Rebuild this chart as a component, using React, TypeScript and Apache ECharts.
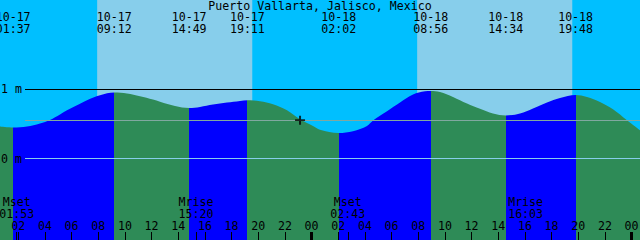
import { useEffect, useRef } from 'react';
import * as echarts from 'echarts';

const TITLE = 'Puerto Vallarta, Jalisco, Mexico';
const FIRST_DAY = 17;
const T_MIN = 0.63; // hours after 10-17 00:00 at left edge
const T_MAX = 48.63;
const Y_MIN = -1.181;
const Y_MAX = 2.297;

// Tide extremes (labels at top)
const tideTimes = ['10-17 01:37', '10-17 09:12', '10-17 14:49', '10-17 19:11', '10-18 02:02', '10-18 08:56', '10-18 14:34', '10-18 19:48'];
const tideKinds = ['L', 'H', 'L', 'H', 'L', 'H', 'L', 'H'];

// Moon events (labels at bottom)
const moonTimes = ['10-17 01:53', '10-17 15:20', '10-18 02:43', '10-18 16:03'];
const moonEvents = ['Mset', 'Mrise', 'Mset', 'Mrise'];

// Daylight
const sunriseTimes = ['10-17 07:55', '10-18 07:55'];
const sunsetTimes = ['10-17 19:33', '10-18 19:33'];

// Hour tick labels (hours after 10-17 00:00)
const hourTicks = [2, 4, 6, 8, 10, 12, 14, 16, 18, 20, 22, 24, 26, 28, 30, 32, 34, 36, 38, 40, 42, 44, 46, 48];
const midnightTicks = [24, 48];

// Tide curve (hours, metres)
const curveHours = [0.63, 1.617, 2.655, 3.63, 4.38, 5.13, 5.655, 6.405, 7.155, 8.13, 9.2, 10.155, 11.13, 12.105, 12.63, 13.755, 14.817, 15.63, 16.605, 17.655, 18.63, 19.183, 20.13, 21.105, 22.155, 23.13, 24.105, 24.63, 26.033, 27.105, 28.155, 28.605, 29.655, 30.63, 31.605, 32.505, 32.933, 33.63, 34.605, 35.655, 36.63, 37.605, 38.567, 39.63, 40.605, 41.655, 42.63, 43.8, 44.655, 45.63, 46.605, 47.655, 48.63];
const curveMeters = [0.464, 0.449, 0.464, 0.507, 0.559, 0.638, 0.7, 0.772, 0.845, 0.917, 0.957, 0.942, 0.903, 0.855, 0.823, 0.762, 0.733, 0.748, 0.783, 0.812, 0.835, 0.845, 0.83, 0.787, 0.7, 0.57, 0.472, 0.417, 0.371, 0.396, 0.472, 0.551, 0.686, 0.812, 0.928, 0.975, 0.98, 0.965, 0.893, 0.797, 0.72, 0.652, 0.623, 0.652, 0.725, 0.812, 0.878, 0.922, 0.893, 0.82, 0.714, 0.555, 0.41];

const labeledLevels = [0, 1];
const meanLevel = 0.551;
const lineStartHour = 2.505;
const nowTime = '10-17 23:08';
const nowLevel = 0.555;

const NIGHT = '#00bfff';
const DAY = '#87ceeb';
const FALLING = '#2e8b57';
const RISING = '#0000ff';
const FONT = "'DejaVu Sans Mono', monospace";
const FS = 11.6;

function toHours(s: string): number {
  const day = parseInt(s.slice(3, 5), 10);
  const hh = parseInt(s.slice(6, 8), 10);
  const mm = parseInt(s.slice(9, 11), 10);
  return (day - FIRST_DAY) * 24 + hh + mm / 60;
}

function nearest(list: number[], v: number): number {
  let best = 0;
  for (let i = 1; i < list.length; i++) if (Math.abs(list[i] - v) < Math.abs(list[best] - v)) best = i;
  return best;
}

export default function App() {
  const ref = useRef<HTMLDivElement>(null);
  useEffect(() => {
    if (!ref.current) return;
    const chart = echarts.init(ref.current, null, { renderer: 'svg' });
    const tideHours = tideTimes.map(toHours);
    const moonHours = moonTimes.map(toHours);
    const pieces: any[] = [{ lt: tideHours[0], color: tideKinds[0] === 'L' ? FALLING : RISING }];
    for (let i = 0; i < tideHours.length - 1; i++) {
      pieces.push({ gte: tideHours[i], lt: tideHours[i + 1], color: tideKinds[i] === 'L' ? RISING : FALLING });
    }
    const last = tideHours.length - 1;
    pieces.push({ gte: tideHours[last], color: tideKinds[last] === 'L' ? RISING : FALLING });

    const baseX = {
      type: 'value',
      min: T_MIN,
      max: T_MAX,
      splitLine: { show: false },
      axisLine: { show: false, onZero: false },
      z: 10,
    };
    const labelBase = {
      inside: true,
      color: '#000',
      fontFamily: FONT,
      fontSize: FS,
      lineHeight: 12,
      hideOverlap: false,
      align: 'center',
    };

    const levelLines = [
      ...labeledLevels.map((lv) => [
        { coord: [lineStartHour, lv], lineStyle: { color: lv === 0 ? DAY : '#000', width: 1, type: 'solid' } },
        { coord: [T_MAX, lv] },
      ]),
      [
        { coord: [lineStartHour, meanLevel], lineStyle: { color: '#80a8a0', width: 1, type: 'solid' } },
        { coord: [T_MAX, meanLevel] },
      ],
    ];

    chart.setOption({
      animation: false,
      backgroundColor: NIGHT,
      title: {
        text: TITLE,
        left: 'center',
        top: 0,
        padding: 0,
        textStyle: { fontFamily: FONT, fontSize: FS, fontWeight: 'normal', color: '#000', lineHeight: 11 },
      },
      grid: { left: 0, right: 0, top: 0, bottom: 0, containLabel: false, outerBoundsMode: 'none' },
      visualMap: { show: false, type: 'piecewise', dimension: 0, seriesIndex: 1, pieces },
      xAxis: [
        {
          ...baseX,
          position: 'bottom',
          axisTick: { show: true, inside: true, length: 8, customValues: hourTicks, lineStyle: { color: '#000', width: 1 } },
          axisLabel: {
            ...labelBase,
            customValues: hourTicks,
            margin: 8.5,
            verticalAlign: 'bottom',
            formatter: (v: number) => String(Math.round(v) % 24).padStart(2, '0'),
          },
        },
        {
          ...baseX,
          position: 'bottom',
          axisTick: { show: true, inside: true, length: 8, customValues: moonHours, lineStyle: { color: '#000', width: 1 } },
          axisLabel: {
            ...labelBase,
            customValues: moonHours,
            margin: 20.5,
            verticalAlign: 'bottom',
            formatter: (v: number) => {
              const i = nearest(moonHours, v);
              return moonEvents[i] + '\n' + moonTimes[i].slice(6);
            },
          },
        },
        {
          ...baseX,
          position: 'bottom',
          axisTick: { show: true, inside: true, length: 8, customValues: midnightTicks, lineStyle: { color: '#000', width: 3 } },
          axisLabel: { show: false },
        },
        {
          ...baseX,
          position: 'top',
          axisTick: { show: false },
          axisLabel: {
            ...labelBase,
            customValues: tideHours,
            margin: 11,
            verticalAlign: 'top',
            formatter: (v: number) => tideTimes[nearest(tideHours, v)].replace(' ', '\n'),
          },
        },
      ],
      yAxis: {
        type: 'value',
        min: Y_MIN,
        max: Y_MAX,
        z: 10,
        splitLine: { show: false },
        axisLine: { show: false },
        axisTick: { show: false },
        axisLabel: {
          inside: true,
          customValues: labeledLevels,
          margin: 1,
          align: 'left',
          verticalAlign: 'middle',
          color: '#000',
          fontFamily: FONT,
          fontSize: FS,
          formatter: (v: number) => `${v} m`,
        },
      },
      series: [
        {
          type: 'line',
          data: [],
          silent: true,
          z: 1,
          markArea: {
            silent: true,
            z: 1,
            itemStyle: { color: DAY, opacity: 1 },
            data: sunriseTimes.map((r, i) => [{ xAxis: toHours(r) }, { xAxis: toHours(sunsetTimes[i]) }]),
          },
          markLine: {
            silent: true,
            z: 5,
            symbol: ['none', 'none'],
            label: { show: false },
            data: levelLines,
          },
        },
        {
          type: 'line',
          z: 3,
          silent: true,
          smooth: 0.35,
          symbol: 'none',
          lineStyle: { width: 0 },
          areaStyle: { origin: 'start', opacity: 1 },
          data: curveHours.map((t, i) => [t, curveMeters[i]]),
        },
        {
          type: 'scatter',
          z: 6,
          silent: true,
          symbol: 'path://M0,4H10V6H0ZM4,0H6V10H4Z',
          symbolSize: [10, 9],
          itemStyle: { color: '#000' },
          data: [[toHours(nowTime), nowLevel]],
        },
      ],
    });
    return () => chart.dispose();
  }, []);
  return <div ref={ref} style={{ position: 'fixed', left: 0, top: 0, width: 640, height: 240 }} />;
}
